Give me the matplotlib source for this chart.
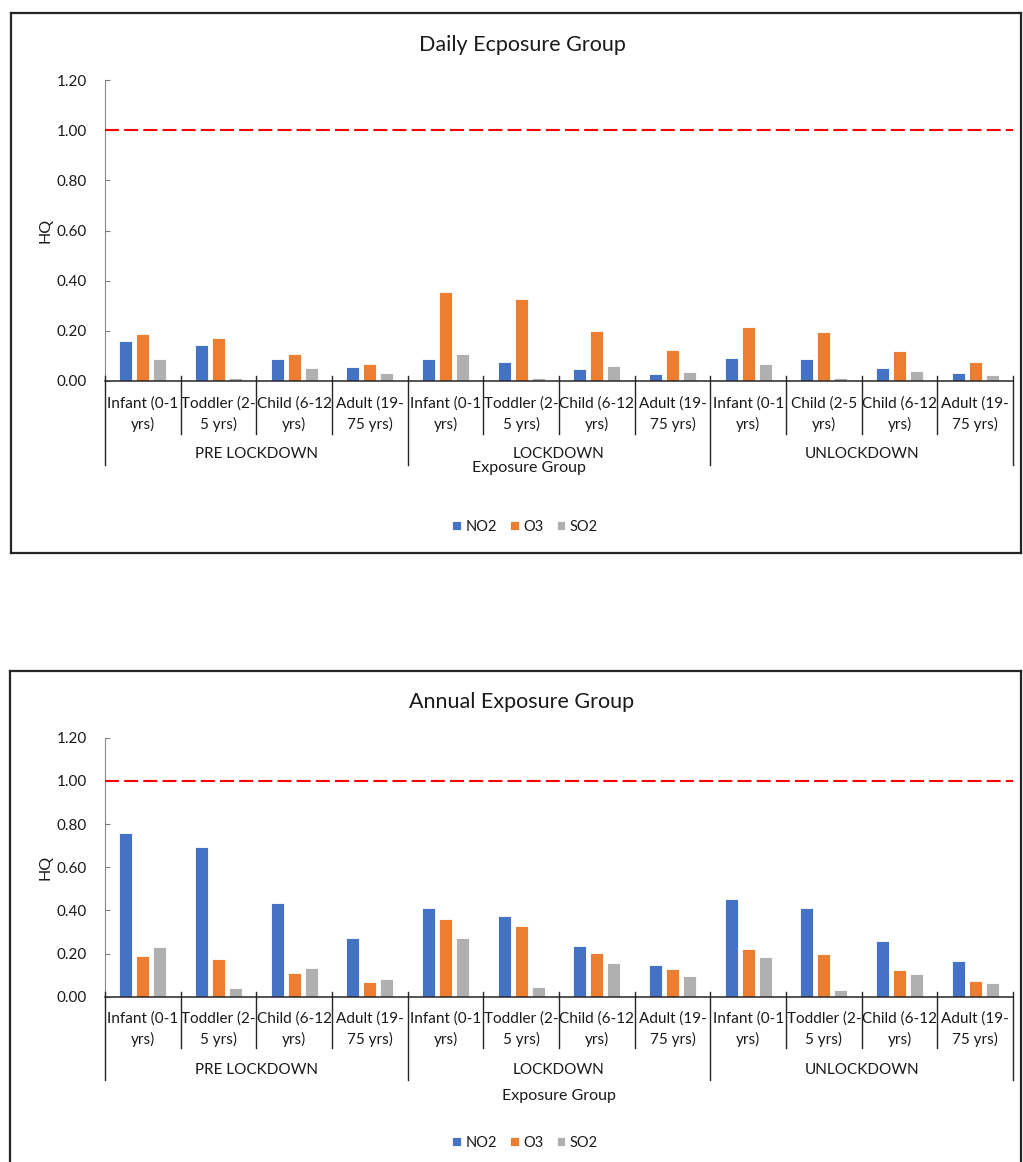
import matplotlib
matplotlib.use("Agg")
import matplotlib.pyplot as plt
from matplotlib import transforms
from matplotlib.lines import Line2D

plt.rcParams['font.family'] = ['Lato', 'DejaVu Sans']

# ---- data ----
periods = ["PRE LOCKDOWN", "LOCKDOWN", "UNLOCKDOWN"]
age_groups_daily = ["Infant (0-1\nyrs)", "Toddler (2-\n5 yrs)", "Child (6-12\nyrs)", "Adult (19-\n75 yrs)",
                    "Infant (0-1\nyrs)", "Toddler (2-\n5 yrs)", "Child (6-12\nyrs)", "Adult (19-\n75 yrs)",
                    "Infant (0-1\nyrs)", "Child (2-5\nyrs)", "Child (6-12\nyrs)", "Adult (19-\n75 yrs)"]
age_groups_annual = ["Infant (0-1\nyrs)", "Toddler (2-\n5 yrs)", "Child (6-12\nyrs)", "Adult (19-\n75 yrs)",
                     "Infant (0-1\nyrs)", "Toddler (2-\n5 yrs)", "Child (6-12\nyrs)", "Adult (19-\n75 yrs)",
                     "Infant (0-1\nyrs)", "Toddler (2-\n5 yrs)", "Child (6-12\nyrs)", "Adult (19-\n75 yrs)"]
pollutants = ["NO2", "O3", "SO2"]

daily_no2 = [0.160, 0.144, 0.088, 0.056, 0.086, 0.076, 0.047, 0.028, 0.093, 0.086, 0.052, 0.031]
daily_o3 = [0.188, 0.171, 0.106, 0.066, 0.356, 0.326, 0.200, 0.125, 0.217, 0.196, 0.121, 0.077]
daily_so2 = [0.088, 0.012, 0.050, 0.030, 0.106, 0.013, 0.059, 0.035, 0.069, 0.010, 0.039, 0.023]

annual_no2 = [0.760, 0.694, 0.434, 0.273, 0.412, 0.372, 0.235, 0.145, 0.453, 0.412, 0.258, 0.164]
annual_o3 = [0.189, 0.173, 0.108, 0.068, 0.359, 0.326, 0.202, 0.128, 0.220, 0.198, 0.124, 0.074]
annual_so2 = [0.229, 0.039, 0.131, 0.082, 0.272, 0.045, 0.155, 0.096, 0.183, 0.030, 0.104, 0.064]

threshold = 1.0
colors = ["#4472C4", "#ED7D31", "#B0B0B0"]
text_color = "#1a1a1a"

W, H = 1023, 1162
fig = plt.figure(figsize=(W / 100, H / 100), dpi=100)


def fx(px):
    return px / W


def fy(py):
    return 1 - py / H


def draw_chart(title, title_y, ax_top, ax_bottom, labels, series, rows, box):
    ax = fig.add_axes([fx(105), fy(ax_bottom), fx(1013) - fx(105), (ax_bottom - ax_top) / H])
    n = len(labels)
    offsets = [-0.225, 0.0, 0.225]
    handles = []
    for k, vals in enumerate(series):
        xs = [i + offsets[k] for i in range(n)]
        b = ax.bar(xs, vals, width=0.175, color=colors[k], edgecolor="white",
                   linewidth=0.6, label=pollutants[k], zorder=2)
        handles.append(b)
    ax.axhline(threshold, color="#FF0000", linewidth=1.5, linestyle=(0, (6.7, 2.5)), zorder=3)
    ax.set_xlim(-0.5, n - 0.5)
    ax.set_ylim(0, 1.2)
    ticks = [0, 0.2, 0.4, 0.6, 0.8, 1.0, 1.2]
    ax.set_yticks(ticks)
    ax.set_yticklabels([f"{v:.2f}" for v in ticks], fontsize=11, color=text_color)
    ax.tick_params(axis="y", direction="in", length=3.4, width=0.8, color="#7f7f7f", pad=13)
    ax.set_xticks([])
    for s in ["top", "right"]:
        ax.spines[s].set_visible(False)
    ax.spines["left"].set_color("#8a8a8a")
    ax.spines["left"].set_linewidth(0.8)
    ax.spines["bottom"].set_color("#262626")
    ax.spines["bottom"].set_linewidth(1.1)
    ax.set_ylabel("HQ", fontsize=11.5, color=text_color, labelpad=3)

    tr = transforms.blended_transform_factory(ax.transData, fig.transFigure)
    row1, row2, short_end, long_end, grp_y, xlabel_xy, legend_y = rows
    # category separators
    for i in range(n + 1):
        end = long_end if i % 4 == 0 else short_end
        fig.add_artist(Line2D([i - 0.5, i - 0.5], [fy(ax_bottom - 5), fy(end)],
                              transform=tr, color="#262626", linewidth=1.0))
    # category labels
    for i, lab in enumerate(labels):
        l1, l2 = lab.split("\n")
        fig.text(i, fy(row1), l1, transform=tr, ha="center", va="center", fontsize=11, color=text_color)
        fig.text(i, fy(row2), l2, transform=tr, ha="center", va="center", fontsize=11, color=text_color)
    # period labels
    for g, p in enumerate(periods):
        fig.text(g * 4 + 1.5, fy(grp_y), p, transform=tr, ha="center", va="center", fontsize=11, color=text_color)
    fig.text(fx(xlabel_xy[0]), fy(xlabel_xy[1]), "Exposure Group", ha="center", va="center",
             fontsize=11.5, color=text_color)
    fig.text(fx(522), fy(title_y), title, ha="center", va="center", fontsize=15.5, color=text_color)
    fig.legend(handles=handles, loc="center", bbox_to_anchor=(fx(525), fy(legend_y)), ncol=3,
               frameon=False, handlelength=0.6, handleheight=0.6, handletextpad=0.3,
               columnspacing=0.9, fontsize=10.5, labelcolor=text_color)

    # outer chart border
    x0, y0, x1, y1 = box
    bc = "#262626"
    fig.add_artist(Line2D([fx(x0), fx(x1)], [fy(y0), fy(y0)], color=bc, linewidth=1.6))
    fig.add_artist(Line2D([fx(x0), fx(x0)], [fy(y0), fy(y1)], color=bc, linewidth=1.6))
    fig.add_artist(Line2D([fx(x1), fx(x1)], [fy(y0), fy(y1)], color=bc, linewidth=1.6))
    if y1 < H:
        fig.add_artist(Line2D([fx(x0), fx(x1)], [fy(y1), fy(y1)], color=bc, linewidth=1.6))
    return ax


draw_chart("Daily Ecposure Group", 45, 80, 381, age_groups_daily,
           [daily_no2, daily_o3, daily_so2],
           (404, 424, 434, 465, 454, (529, 468), 527),
           (11, 13, 1021, 553))

draw_chart("Annual Exposure Group", 702, 737.7, 996.7, age_groups_annual,
           [annual_no2, annual_o3, annual_so2],
           (1019, 1039, 1048, 1080, 1070, (559, 1096), 1143),
           (10, 671, 1021, 1170))

fig.savefig("out.png", dpi=100)
